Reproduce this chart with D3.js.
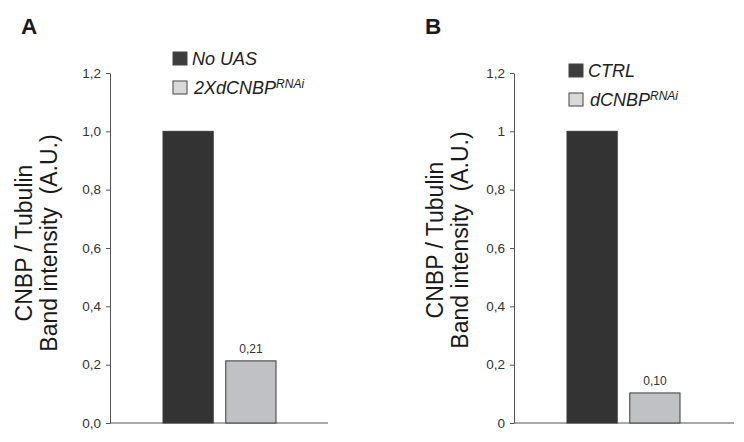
<!DOCTYPE html>
<html>
<head>
<meta charset="utf-8">
<script src="https://cdn.jsdelivr.net/npm/d3@7"></script>
<style>
    body { margin: 0; background: #fff; }
    text { font-family: 'Liberation Sans', Arial, sans-serif; }
</style>
</head>
<body>
<svg id="chart" width="744" height="442"></svg>
<script>
'use strict';

var tickValues = [0, 0.2, 0.4, 0.6, 0.8, 1.0, 1.2];
var tickLabelsA = ['0,0', '0,2', '0,4', '0,6', '0,8', '1,0', '1,2'];
var tickLabelsB = ['0', '0,2', '0,4', '0,6', '0,8', '1', '1,2'];

var categoriesA = ['No UAS', '2XdCNBP'];
var superA = ['', 'RNAi'];
var valuesA = [1.0, 0.213];
var barLabelsA = ['', '0,21'];

var categoriesB = ['CTRL', 'dCNBP'];
var superB = ['', 'RNAi'];
var valuesB = [1.0, 0.103];
var barLabelsB = ['', '0,10'];

var svg = d3.select('#chart');

function drawPanel(opts) {
    var g = svg.append('g').attr('transform', 'translate(' + opts.x0 + ',0)');

    var y = d3.scaleLinear().domain([0, 1.2]).range([423, 73]);
    var x = d3.scaleBand()
        .domain(opts.categories)
        .range([53, 166])
        .paddingInner(0.2)
        .paddingOuter(0);

    // panel letter
    g.append('text')
        .attr('x', opts.letterX)
        .attr('y', 34)
        .attr('font-size', 22.5)
        .attr('font-weight', 'bold')
        .attr('fill', '#1a1a1a')
        .text(opts.letter);

    // y axis
    var axis = d3.axisLeft(y)
        .tickValues(tickValues)
        .tickFormat(function (d, i) { return opts.tickLabels[i]; })
        .tickSize(4)
        .tickPadding(5)
        .tickSizeOuter(0);

    var axisG = g.append('g').call(axis);
    axisG.select('.domain').attr('stroke', '#555');
    axisG.selectAll('.tick line').attr('stroke', '#555');
    axisG.selectAll('.tick text')
        .attr('font-size', 13.5)
        .attr('fill', '#333')
        .style('font-family', "'Liberation Sans', Arial, sans-serif");

    // baseline
    g.append('line')
        .attr('x1', 0)
        .attr('x2', opts.baseEnd)
        .attr('y1', y(0))
        .attr('y2', y(0))
        .attr('stroke', '#555')
        .attr('stroke-width', 1.2);

    // bars
    var fills = ['#333333', '#c0c1c5'];
    g.selectAll('rect.bar')
        .data(opts.values)
        .enter().append('rect')
        .attr('class', 'bar')
        .attr('x', function (d, i) { return x(opts.categories[i]); })
        .attr('y', function (d) { return y(d); })
        .attr('width', x.bandwidth())
        .attr('height', function (d) { return y(0) - y(d); })
        .attr('fill', function (d, i) { return fills[i]; })
        .attr('stroke', '#3a3a3a')
        .attr('stroke-width', 1);

    g.selectAll('text.barlabel')
        .data(opts.values)
        .enter().append('text')
        .attr('class', 'barlabel')
        .attr('x', function (d, i) { return x(opts.categories[i]) + x.bandwidth() / 2; })
        .attr('y', function (d) { return y(d) - 8; })
        .attr('text-anchor', 'middle')
        .attr('font-size', 12)
        .attr('fill', '#333')
        .text(function (d, i) { return opts.barLabels[i]; });

    // y title
    var title = g.append('text')
        .attr('transform', 'translate(' + opts.titleX + ',' + opts.titleY + ') rotate(-90)')
        .attr('text-anchor', 'middle')
        .attr('font-size', 23)
        .attr('fill', '#1a1a1a')
        .style('white-space', 'pre');
    title.append('tspan').attr('x', 0).attr('dy', 0).text('CNBP / Tubulin');
    title.append('tspan').attr('x', 0).attr('dy', 25).text('Band intensity  (A.U.)');

    // legend
    var legendFills = ['#3d3d3d', '#d9d9d9'];
    var leg = g.selectAll('g.legend')
        .data(opts.categories)
        .enter().append('g')
        .attr('class', 'legend')
        .attr('transform', function (d, i) {
            return 'translate(' + opts.legX + ',' + (opts.legY + i * 29) + ')';
        });
    leg.append('rect')
        .attr('x', 0)
        .attr('y', 0)
        .attr('width', 14)
        .attr('height', 13)
        .attr('fill', function (d, i) { return legendFills[i]; })
        .attr('stroke', '#444')
        .attr('stroke-width', 1);
    var lt = leg.append('text')
        .attr('x', function (d, i) { return i === 0 ? 19 : 21; })
        .attr('y', 13)
        .attr('font-size', 18)
        .attr('font-style', 'italic')
        .attr('fill', '#222');
    lt.append('tspan').text(function (d) { return d; });
    lt.append('tspan')
        .attr('dy', -6)
        .attr('font-size', 12)
        .text(function (d, i) { return opts.superscripts[i]; });
}

drawPanel({
    x0: 110,
    letter: 'A',
    letterX: -89,
    tickLabels: tickLabelsA,
    categories: categoriesA,
    superscripts: superA,
    values: valuesA,
    barLabels: barLabelsA,
    baseEnd: 218,
    titleX: -78,
    titleY: 243,
    legX: 63,
    legY: 52
});

drawPanel({
    x0: 514,
    letter: 'B',
    letterX: -89,
    tickLabels: tickLabelsB,
    categories: categoriesB,
    superscripts: superB,
    values: valuesB,
    barLabels: barLabelsB,
    baseEnd: 220,
    titleX: -71,
    titleY: 240,
    legX: 55,
    legY: 64
});
</script>
</body>
</html>
